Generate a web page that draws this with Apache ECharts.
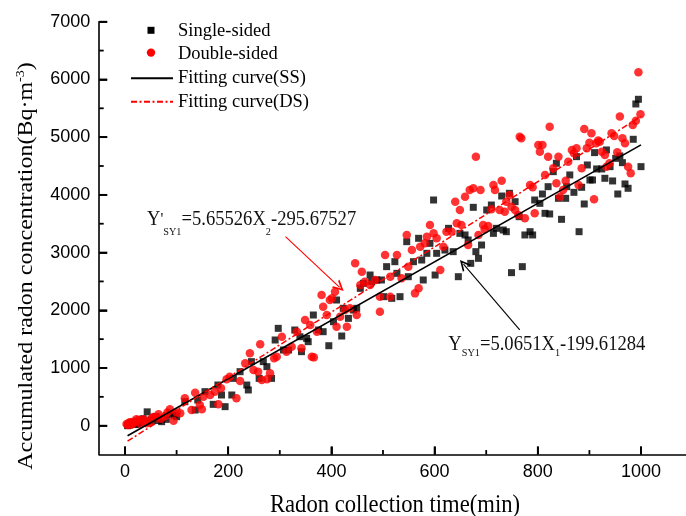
<!DOCTYPE html>
<html>
<head>
<meta charset="utf-8">
<script src="https://cdn.jsdelivr.net/npm/echarts@6/dist/echarts.min.js"></script>
<style>html,body{margin:0;padding:0;background:#fff;}#c{width:686px;height:516px;}</style>
</head>
<body>
<div id="c"></div>
<script>
// ---- data ----
const xTickValues = [0, 200, 400, 600, 800, 1000];
const xMinorTicks = [100, 300, 500, 700, 900];
const yTickValues = [0, 1000, 2000, 3000, 4000, 5000, 6000, 7000];
const yMinorTicks = [500, 1500, 2500, 3500, 4500, 5500, 6500];
const xRange = [-50, 1087];
const yRange = [-500, 7000];

const singleSided = [
[5,0],[8,10],[12,40],[15,50],[20,20],[25,30],[28,60],[35,120],[43,240],[50,100],[52,80],[58,130],[60,160],[65,90],[71,70],[80,110],[88,200],[95,180],[100,156],
[116,416],[136,272],[141,445],[155,590],[171,370],[180,705],[187,532],[194,330],[207,532],[210,820],[223,936],[236,705],[239,619],[245,1110],[260,820],[268,1110],[275,1023],[284,820],[291,1485],[297,1687],[307,1312],[317,1312],[342,1283],
[329,1658],[339,1542],[352,1513],[355,1456],[365,1918],[375,1658],[384,1629],[395,1386],[404,1802],[410,2178],[420,1554],[423,2034],[433,1860],[443,2005],[449,2034],[456,2380],[462,2467],[475,2611],[478,2496],[488,2525],[497,2525],[501,2236],[507,2756],[517,2207],[523,2842],[527,2640],[533,2236],[546,3189],[549,2582],[559,2842],[569,3247],[575,2871],[578,2525],[585,2987],[591,3160],[598,3911],[601,2611],[604,2987],[620,3044],[627,3420],[636,3016],[646,2582],
[836,4547],[830,4402],[862,4345],[856,4142],[820,4142],[809,4015],[794,3911],[804,3853],[840,3940],[854,3940],[730,3980],[745,4027],[756,3882],[710,3824],[701,3738],[675,3784],[764,3622],[814,3680],[823,3669],[846,3576],[714,3333],[720,3420],[733,3391],[739,3362],[775,3305],[785,3362],[790,3305],[649,3333],[659,3305],[665,3218],[691,3131],[680,3016],[685,2900],[670,2813],[770,2756],[749,2652],
[995,5656],[990,5575],[985,4963],[933,4778],[910,4732],[875,4662],[959,4674],[951,4633],[896,4518],[964,4558],[914,4449],[924,4449],[940,4489],[1000,4489],[901,4258],[906,4258],[930,4287],[945,4241],[969,4189],[975,4114],[870,4044],[885,4131],[955,4015],[890,3842],[880,3362]
];

const doubleSided = [
[3,30],[5,20],[6,12],[8,50],[10,60],[12,20],[15,30],[16,70],[20,60],[22,110],[26,99],[30,40],[35,110],[38,90],[42,41],[48,60],[52,128],[55,150],[61,145],[65,200],[70,120],[78,168],[82,230],[87,283],[94,87],[100,230],
[107,214],[116,474],[129,272],[136,572],[145,359],[149,283],[152,503],[165,532],[174,590],[181,370],[186,648],[197,803],[203,850],[216,474],[223,775],[233,1080],[242,1254],[249,965],[258,936],[262,1410],[265,792],[275,803],[281,907],[289,1167],[294,1196],[304,1543],[313,1283],[342,1341],
[323,1369],[333,1629],[349,1831],[359,1745],[362,1196],[366,1184],[372,1629],[381,2265],[384,2062],[391,1918],[397,2178],[401,2207],[407,2322],[410,1716],[417,1889],[426,2005],[430,1716],[436,2034],[446,2813],[449,1918],[456,2438],[459,2669],[465,2496],[475,2438],[485,2525],[494,1976],[494,2236],[504,2958],[514,2582],[514,2236],[527,2958],[536,2554],[546,3304],[549,2756],[556,3044],[562,2293],[569,2380],[572,3102],[581,3160],[585,3276],[591,3478],[598,3333],[604,3247],[611,2698],[617,3102],[623,3362],[633,3362],[640,3882],[643,3507],
[823,5182],[765,5009],[768,4980],[801,4864],[809,4864],[804,4749],[680,4662],[820,4662],[840,4662],[859,4575],[830,4460],[814,4345],[659,3969],[668,4084],[675,4113],[689,4084],[714,4171],[730,4246],[717,4084],[785,4171],[790,4131],[836,4200],[854,4246],[849,4084],[843,3969],[745,3998],[739,3882],[749,3796],[756,3738],[726,3738],[736,3709],[710,3749],[762,3651],[775,3593],[794,3680],[694,3478],[704,3460],[697,3403],[685,3305],[665,3131],[652,3478],[649,3738],
[995,6124],[999,5396],[990,5286],[984,5211],[959,5356],[890,5142],[904,5067],[943,5067],[948,5020],[964,4980],[969,4893],[917,4940],[920,4922],[913,4893],[900,4905],[895,4807],[875,4807],[866,4778],[870,4720],[924,4749],[930,4691],[954,4737],[933,4489],[939,4547],[885,4460],[975,4489],[980,4373],[879,4171],[909,3923]
];

const fitSS = [[5, -174], [1000, 4866]];
const fitDS = [[5, -267], [1000, 5360]];

const arrowDS = [[311, 3276], [416, 2398]];
const arrowSS = [[765, 1659], [656, 2800]];

const seriesNames = ['Single-sided', 'Double-sided', 'Fitting curve(SS)', 'Fitting curve(DS)'];

// ---- layout ----
const X0 = 125, PX_PER_X = 0.516;
const Y0 = 425.7, PX_PER_Y = 0.05771;
const gLeft = X0 + xRange[0] * PX_PER_X;
const gWidth = (xRange[1] - xRange[0]) * PX_PER_X;
const gTop = Y0 - yRange[1] * PX_PER_Y;
const gHeight = (yRange[1] - yRange[0]) * PX_PER_Y;

const SERIF = 'Liberation Serif';
const SANS = 'Liberation Sans';
const plain = v => String(v);
const CLEAR = 'rgba(0,0,0,0)';
const DASHDOT = [6, 2.5, 2, 2.5];
const CHEVRON = 'path://M0,10L5,0L10,10L8.3,10L5,3.4L1.7,10Z';
const MAJOR_LEN = 8, MINOR_LEN = 4.5, TICK_W = 1.8;

function mainAxis(range, ticks, margin) {
  return {
    gridIndex: 0, type: 'value', min: range[0], max: range[1],
    axisLine: {show: true, onZero: false, lineStyle: {color: '#000', width: 1.6}},
    axisTick: {show: true, inside: true, length: MAJOR_LEN, customValues: ticks, lineStyle: {color: '#000', width: TICK_W}},
    axisLabel: {show: true, inside: false, margin: margin, customValues: ticks, color: '#000',
                fontFamily: SANS, fontSize: 18, formatter: plain, showMinLabel: true, showMaxLabel: true},
    splitLine: {show: false}, minorTick: {show: false}
  };
}

const staticGraphics = [
  {type: 'rect', silent: true, shape: {x: 147.5, y: 26.8, width: 7, height: 7}, style: {fill: '#000'}},
  {type: 'circle', silent: true, shape: {cx: 151, cy: 52.6, r: 4.2}, style: {fill: '#ff0000'}},
  {type: 'text', x: 395, y: 505, scaleX: 0.87, silent: true,
   style: {text: 'Radon collection time(min)', font: '26px "Liberation Serif"', fill: '#000', align: 'center', verticalAlign: 'middle'}},
  {type: 'text', x: 27, y: 266, rotation: Math.PI / 2, scaleY: 0.87, silent: true,
   style: {text: '{m|Accumulated radon concentration(Bq·m}{p|-3}{m|)}', align: 'center', verticalAlign: 'middle', fill: '#000',
     rich: {m: {fontFamily: SERIF, fontSize: 24, lineHeight: 28, fill: '#000'},
            p: {fontFamily: SERIF, fontSize: 14, lineHeight: 14, verticalAlign: 'top', fill: '#000'}}}},
  {type: 'text', x: 147, y: 202.4, scaleX: 0.93, silent: true,
   style: {text: "{m|Y}{p|'}{s|SY1}{m|=5.65526X}{s|2}{m|-295.67527}", align: 'left', verticalAlign: 'top', fill: '#111',
     rich: {m: {fontFamily: SERIF, fontSize: 20, lineHeight: 35, fill: '#111'},
            s: {fontFamily: SERIF, fontSize: 11, lineHeight: 11, verticalAlign: 'bottom', fill: '#111'},
            p: {fontFamily: SERIF, fontSize: 17, lineHeight: 35, fill: '#111'}}}},
  {type: 'text', x: 448.3, y: 331.4, scaleX: 0.93, silent: true,
   style: {text: '{m|Y}{s|SY1}{m|=5.0651X}{s|1}{m|-199.61284}', align: 'left', verticalAlign: 'top', fill: '#111',
     rich: {m: {fontFamily: SERIF, fontSize: 20, lineHeight: 27, fill: '#111'},
            s: {fontFamily: SERIF, fontSize: 11, lineHeight: 11, verticalAlign: 'bottom', fill: '#111'}}}}
];

const chart = echarts.init(document.getElementById('c'), null, {renderer: 'canvas'});
chart.setOption({
  animation: false,
  backgroundColor: '#fff',
  grid: [{left: gLeft, top: gTop, width: gWidth, height: gHeight, containLabel: false, outerBoundsMode: 'none'}],
  xAxis: [Object.assign(mainAxis(xRange, xTickValues, 8), {position: 'bottom'})],
  yAxis: [Object.assign(mainAxis(yRange, yTickValues, 9), {position: 'left'})],
  legend: {
    orient: 'vertical', left: 130, top: 21.3, padding: 0, itemGap: 4.67,
    itemWidth: 42, itemHeight: 14,
    textStyle: {fontFamily: SERIF, fontSize: 18.5, lineHeight: 18, color: '#000'},
    data: [
      {name: seriesNames[0], icon: 'none'},
      {name: seriesNames[1], icon: 'none'},
      {name: seriesNames[2], itemStyle: {color: CLEAR, borderColor: CLEAR, borderWidth: 0}},
      {name: seriesNames[3], itemStyle: {color: CLEAR, borderColor: CLEAR, borderWidth: 0}}
    ]
  },
  series: [
    {name: seriesNames[0], type: 'scatter', xAxisIndex: 0, yAxisIndex: 0, symbol: 'rect', symbolSize: 7,
     itemStyle: {color: '#000'}, data: singleSided},
    {name: seriesNames[1], type: 'scatter', xAxisIndex: 0, yAxisIndex: 0, symbol: 'circle', symbolSize: 8.5,
     itemStyle: {color: '#ff0000'}, data: doubleSided},
    {name: seriesNames[2], type: 'line', xAxisIndex: 0, yAxisIndex: 0, symbol: 'none', showSymbol: false,
     lineStyle: {color: '#000', width: 1.6, type: 'solid'}, itemStyle: {color: '#000'}, data: fitSS,
     markLine: {silent: true, symbol: ['none', CHEVRON], symbolSize: 11,
       lineStyle: {color: '#000', width: 1.1, type: 'solid', opacity: 1}, itemStyle: {color: '#000'}, label: {show: false},
       emphasis: {disabled: true},
       data: [[{coord: arrowSS[0]}, {coord: arrowSS[1]}]]}},
    {name: seriesNames[3], type: 'line', xAxisIndex: 0, yAxisIndex: 0, symbol: 'none', showSymbol: false,
     lineStyle: {color: '#ff0000', width: 1.5, type: DASHDOT}, itemStyle: {color: '#ff0000'}, data: fitDS,
     markLine: {silent: true, symbol: ['none', CHEVRON], symbolSize: 11,
       lineStyle: {color: '#ff0000', width: 1.1, type: 'solid', opacity: 1}, itemStyle: {color: '#ff0000'}, label: {show: false},
       emphasis: {disabled: true},
       data: [[{coord: arrowDS[0]}, {coord: arrowDS[1]}]]}}
  ]
});

// Inward tick marks placed through the axes' own scales
const xBase = chart.convertToPixel({yAxisIndex: 0}, yRange[0]);
const yBase = chart.convertToPixel({xAxisIndex: 0}, xRange[0]);
const tickGraphics = [];
function xTick(v, len) {
  const px = chart.convertToPixel({xAxisIndex: 0}, v);
  if (!isFinite(px) || !isFinite(xBase)) return;
  tickGraphics.push({type: 'line', silent: true, z: 10,
    shape: {x1: px, y1: xBase, x2: px, y2: xBase - len}, style: {stroke: '#000', lineWidth: TICK_W}});
}
function yTick(v, len) {
  const py = chart.convertToPixel({yAxisIndex: 0}, v);
  if (!isFinite(py) || !isFinite(yBase)) return;
  tickGraphics.push({type: 'line', silent: true, z: 10,
    shape: {x1: yBase, y1: py, x2: yBase + len, y2: py}, style: {stroke: '#000', lineWidth: TICK_W}});
}
xTickValues.forEach(v => xTick(v, MAJOR_LEN));
xMinorTicks.forEach(v => xTick(v, MINOR_LEN));
yTickValues.forEach(v => yTick(v, MAJOR_LEN));
yMinorTicks.forEach(v => yTick(v, MINOR_LEN));

chart.setOption({graphic: staticGraphics.concat(tickGraphics)});
</script>
</body>
</html>
